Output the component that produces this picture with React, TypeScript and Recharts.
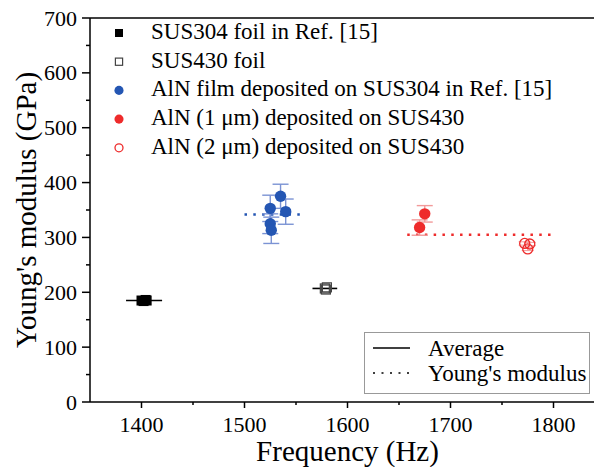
import React from "react";
import {
  ScatterChart,
  Scatter,
  XAxis,
  YAxis,
  ErrorBar,
  ReferenceLine,
} from "recharts";

// frequency (Hz) vs Young's modulus (GPa)
const sus304Foil = [
  { x: 1400, y: 185 },
  { x: 1402, y: 184 },
  { x: 1404, y: 186 },
  { x: 1405, y: 185 },
];
const sus430Foil = [
  { x: 1578, y: 207 },
  { x: 1580, y: 209 },
  { x: 1579, y: 205 },
];
const alnSus304 = [
  { x: 1535, y: 375, err: 22 },
  { x: 1525, y: 353, err: 24 },
  { x: 1540, y: 347, err: 23 },
  { x: 1525, y: 325, err: 18 },
  { x: 1526, y: 313, err: 24 },
];
const aln1um = [
  { x: 1675, y: 343, err: 15 },
  { x: 1670, y: 318, err: 14 },
];
const aln2um = [
  { x: 1772, y: 289, err: 3 },
  { x: 1777, y: 288, err: 3 },
  { x: 1775, y: 279, err: 3 },
];

// averages (solid) and fitted Young's modulus (dotted)
const averageLines = [
  { from: 1385, to: 1420, y: 185 },
  { from: 1566, to: 1590, y: 207 },
];
const modulusLines = [
  { from: 1500, to: 1555, y: 342, color: "#2456b3" },
  { from: 1658, to: 1800, y: 305, color: "#ee2b2b" },
];

const xTicks = [1400, 1450, 1500, 1550, 1600, 1650, 1700, 1750, 1800];
const yTicks = [0, 50, 100, 150, 200, 250, 300, 350, 400, 450, 500, 550, 600, 650, 700];

const FONT = "'Liberation Serif', 'Times New Roman', serif";
const BLUE = "#2456b3";
const RED = "#ee2b2b";

const legendItems = [
  { label: "SUS304 foil in Ref. [15]", kind: "filledSquare" },
  { label: "SUS430 foil", kind: "openSquare" },
  { label: "AlN film deposited on SUS304 in Ref. [15]", kind: "blueDot" },
  { label: "AlN (1 μm) deposited on SUS430", kind: "redDot" },
  { label: "AlN (2 μm) deposited on SUS430", kind: "openRed" },
];

function Marker({ kind, cx, cy, small }: { kind: string; cx: number; cy: number; small?: boolean }) {
  const s = small ? 0.8 : 1;
  if (kind === "filledSquare")
    return <rect x={cx - 5 * s} y={cy - 5 * s} width={10 * s} height={10 * s} fill="#000" />;
  if (kind === "openSquare")
    return (
      <rect x={cx - 4.5 * s} y={cy - 4.5 * s} width={9 * s} height={9 * s} fill="none" stroke="#444" strokeWidth={1.2} />
    );
  if (kind === "blueDot") return <circle cx={cx} cy={cy} r={5.7 * s} fill={BLUE} />;
  if (kind === "redDot") return <circle cx={cx} cy={cy} r={5.7 * s} fill={RED} />;
  return <circle cx={cx} cy={cy} r={5 * s} fill="none" stroke={RED} strokeWidth={1.3} />;
}

const shapeOf = (kind: string) => (props: any) => <Marker kind={kind} cx={props.cx} cy={props.cy} />;

const XTick = (props: any) => {
  const { x, y, payload } = props;
  const major = payload.value % 100 === 0;
  return (
    <g>
      <line x1={x} x2={x} y1={y} y2={y + (major ? 6 : 3)} stroke="#000" strokeWidth={1.5} />
      {major && (
        <text x={x} y={y + 30} textAnchor="middle" fontSize={22} fontFamily={FONT} fill="#000">
          {payload.value}
        </text>
      )}
    </g>
  );
};

const YTick = (props: any) => {
  const { x, y, payload } = props;
  const major = payload.value % 100 === 0;
  return (
    <g>
      <line x1={x} x2={x - (major ? 8 : 4)} y1={y} y2={y} stroke="#000" strokeWidth={1.5} />
      {major && (
        <text x={x - 13} y={y + 7.5} textAnchor="end" fontSize={22} fontFamily={FONT} fill="#000">
          {payload.value}
        </text>
      )}
    </g>
  );
};

export default function App() {
  return (
    <div style={{ position: "absolute", left: 0, top: 0, width: 594, height: 467, overflow: "hidden", background: "#fff" }}>
      <ScatterChart width={610} height={467} margin={{ top: 18, right: 5, bottom: 0, left: 0 }}>
        <XAxis
          type="number"
          dataKey="x"
          domain={[1350, 1850]}
          ticks={xTicks}
          interval={0}
          tick={XTick}
          tickLine={false}
          tickSize={0}
          tickMargin={0}
          height={65}
          axisLine={{ stroke: "#000", strokeWidth: 1.5 }}
          label={{
            value: "Frequency (Hz)",
            position: "insideBottom",
            offset: 6,
            fontSize: 29,
            fontFamily: FONT,
            fill: "#000",
          }}
        />
        <YAxis
          type="number"
          dataKey="y"
          domain={[0, 700]}
          ticks={yTicks}
          interval={0}
          tick={YTick}
          tickLine={false}
          tickSize={0}
          tickMargin={0}
          width={90}
          axisLine={{ stroke: "#000", strokeWidth: 1.5 }}
          label={{
            value: "Young's modulus (GPa)",
            angle: -90,
            position: "insideLeft",
            offset: 26,
            fontSize: 29,
            fontFamily: FONT,
            fill: "#000",
            style: { textAnchor: "middle" },
          }}
        />
        <ReferenceLine y={700} stroke="#000" strokeWidth={1.5} />
        {averageLines.map((l, i) => (
          <ReferenceLine
            key={"avg" + i}
            segment={[
              { x: l.from, y: l.y },
              { x: l.to, y: l.y },
            ]}
            stroke="#000"
            strokeWidth={1.6}
          />
        ))}
        {modulusLines.map((l, i) => (
          <ReferenceLine
            key={"mod" + i}
            segment={[
              { x: l.from, y: l.y },
              { x: l.to, y: l.y },
            ]}
            stroke={l.color}
            strokeWidth={2.5}
            strokeDasharray="2.5 6.3"
          />
        ))}
        <Scatter data={sus304Foil} shape={shapeOf("filledSquare")} isAnimationActive={false} />
        <Scatter data={sus430Foil} shape={shapeOf("openSquare")} isAnimationActive={false} />
        <Scatter data={alnSus304} shape={shapeOf("blueDot")} isAnimationActive={false}>
          <ErrorBar dataKey="err" direction="y" width={8} stroke="#7b93d4" strokeWidth={1.4} />
        </Scatter>
        <Scatter data={aln1um} shape={shapeOf("redDot")} isAnimationActive={false}>
          <ErrorBar dataKey="err" direction="y" width={8} stroke="#f29a9a" strokeWidth={1.4} />
        </Scatter>
        <Scatter data={aln2um} shape={shapeOf("openRed")} isAnimationActive={false}>
          <ErrorBar dataKey="err" direction="y" width={6} stroke="#f29a9a" strokeWidth={1} />
        </Scatter>
      </ScatterChart>

      <svg width={594} height={467} style={{ position: "absolute", left: 0, top: 0, pointerEvents: "none" }}>
        {legendItems.map((item, i) => {
          const cy = 33 + i * 28.7;
          return (
            <g key={item.label}>
              <Marker kind={item.kind} cx={119} cy={cy} small />
              <text x={151} y={cy + 6} fontSize={23} fontFamily={FONT} fill="#000">
                {item.label}
              </text>
            </g>
          );
        })}
        <rect x={364.5} y={332.5} width={225} height={61} fill="#fff" stroke="#999" strokeWidth={1} />
        <line x1={373} x2={410} y1={348} y2={348} stroke="#000" strokeWidth={1.5} />
        <text x={428} y={356} fontSize={23} fontFamily={FONT} fill="#000">
          Average
        </text>
        <line x1={373} x2={412} y1={373} y2={373} stroke="#000" strokeWidth={1.5} strokeDasharray="2 6.5" />
        <text x={428} y={381} fontSize={23} fontFamily={FONT} fill="#000">
          Young's modulus
        </text>
      </svg>
    </div>
  );
}
